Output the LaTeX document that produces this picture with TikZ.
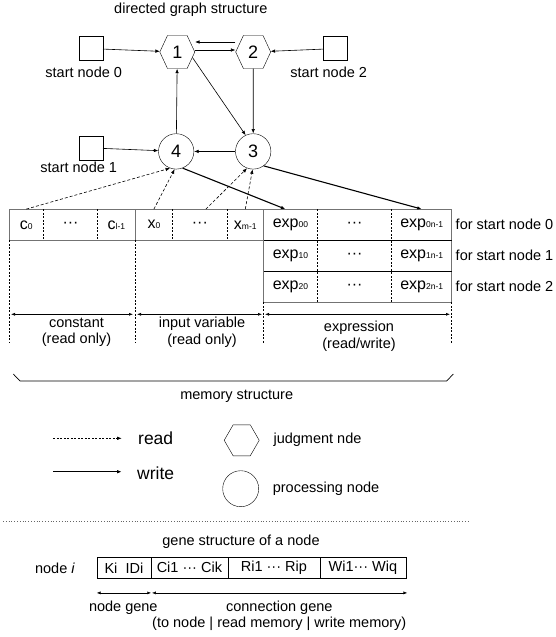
\documentclass[tikz,border=0pt]{standalone}
\usepackage{fontspec}
\setmainfont{Liberation Sans}
\usetikzlibrary{shapes.geometric,shapes.symbols,arrows.meta}
\newcommand\sbs[1]{{\fontsize{8.5}{9}\selectfont #1}}
\begin{document}
\begin{tikzpicture}[x=1pt,y=-1pt,font=\fontsize{14.5}{16.7}\selectfont,
  sq/.style={draw,minimum size=24pt,inner sep=0pt},
  hex/.style={draw,signal,signal to=east and west,signal pointer angle=130,minimum width=35pt,minimum height=33pt,inner sep=0pt,font=\fontsize{18}{18}\selectfont},
  proc/.style={draw,circle,minimum size=35.4pt,inner sep=0pt,font=\fontsize{18}{18}\selectfont},
  arr/.style={-{Latex[length=4.5pt,width=3.5pt]},line width=0.6pt},
  rd/.style={arr,dash pattern=on 3pt off 2pt},
  wr/.style={arr,line width=1.1pt},
  dbl/.style={{Latex[length=4pt,width=3pt]}-{Latex[length=4pt,width=3pt]},line width=0.6pt},
  cell/.style={minimum height=31pt,inner sep=0pt,font=\fontsize{16}{18}\selectfont},
  blk/.style={draw=black!55,line width=1pt},
  dsh/.style={dash pattern=on 2pt off 1.5pt,line width=0.6pt},
  gcell/.style={draw,minimum height=21pt,inner sep=0pt}]
\useasboundingbox (0,0) rectangle (556,637);
\node (title) at (190.8,9.9) {directed graph structure};
\node[sq] (s0) at (90.8,48.6) {};
\node (s0l) at (83.7,72) {start node 0};
\node[sq] (s2) at (335.5,48.6) {};
\node (s2l) at (328.7,72) {start node 2};
\node[sq] (s1) at (90.8,147.9) {};
\node (s1l) at (78.7,167.7) {start node 1};
\node[hex] (n1) at (177.3,52) {1};
\node[hex] (n2) at (253.2,52) {2};
\node[proc] (n4) at (176.2,151.4) {4};
\node[proc] (n3) at (253.2,151.4) {3};
\draw[arr] (s0) -- (n1);
\draw[arr] (s2) -- (n2);
\draw[arr] (s1) -- (n4);
\draw[arr] ([yshift=10pt]n2.west) -- ([yshift=10pt]n1.east);
\draw[arr] ([yshift=2pt]n1.east) -- ([yshift=2pt]n2.west);
\draw[arr] (n1.-20) -- (n3.115);
\draw[arr] (n2) -- (n3);
\draw[arr] (n4) -- (n1);
\draw[arr] (n3) -- (n4);
\node[cell] (c0) at (26.3,224.8) {c\sbs{0}};
\node[cell] (cd) at (70.5,224.8) {···};
\node[cell] (cl) at (116.4,224.8) {c\sbs{l-1}};
\node[cell] (x0) at (153.9,224.8) {x\sbs{0}};
\node[cell] (xd) at (199.9,224.8) {···};
\node[cell] (xm) at (245.3,224.8) {x\sbs{m-1}};
\foreach \r/\y in {0/224.8,1/255.8,2/286.8}{
  \node[cell] (ea\r) at (290.4,\y) {exp\sbs{\r0}};
  \node[cell] (eb\r) at (354.5,\y) {···};
  \node[cell] (ec\r) at (421.7,\y) {exp\sbs{\r n-1}};
  \node (for\r) at (504.5,\y) {for start node \r};
}
\draw[blk] (9.3,209.3) rectangle (451.7,240.3);
\draw[blk] (135,209.3) -- (135,240.3) (263.5,209.3) -- (263.5,302.3) -- (451.7,302.3) -- (451.7,240.3);
\draw[line width=0.7pt] (263.5,240.3) -- (451.7,240.3) (263.5,271.3) -- (451.7,271.3);
\foreach \x in {43.3,97.7,172.7,227} \draw[dsh] (\x,209.3) -- (\x,240.3);
\foreach \x in {317.3,391.7} \draw[dsh] (\x,209.3) -- (\x,302.3);
\draw[dsh] (9.3,240.3) -- (9.3,343) (135,240.3) -- (135,343) (263.5,302.3) -- (263.5,343) (451.7,302.3) -- (451.7,343);
\draw[rd] (c0.north) -- (n4.250);
\draw[rd] (x0.north) -- (n4.265);
\draw[rd] ([xshift=6pt]xd.north) -- (n3.250);
\draw[rd] (xm.north) -- (n3.268);
\draw[wr] (n4.291) -- ([xshift=-5pt]ea0.north);
\draw[wr] (n3.306) -- (ec0.north);
\draw[dbl] (11,314.3) -- (133,314.3);
\draw[dbl] (137,314.3) -- (262,314.3);
\draw[dbl] (265,314.3) -- (450,314.3);
\node[align=center] (lc) at (76.5,332.3) {constant\\(read only)};
\node[align=center] (li) at (202,332.3) {input variable\\(read only)};
\node[align=center,font=\fontsize{14.5}{17.7}\selectfont] (le) at (359,336.2) {expression\\(read/write)};
\draw[line width=0.7pt] (13.3,374) -- (20,381) -- (446.7,381) -- (453.3,374);
\node (mem) at (236.7,396.7) {memory structure};
\coordinate (ra) at (53.3,438.3);
\coordinate (rb) at (121.7,438.3);
\coordinate (wa) at (53.3,471.7);
\coordinate (wb) at (121.7,471.7);
\draw[rd,dash pattern=on 2pt off 1.5pt] (ra) -- (rb);
\draw[wr] (wa) -- (wb);
\node[font=\fontsize{17.5}{18}\selectfont] (lr) at (155.7,438) {read};
\node[font=\fontsize{17.5}{18}\selectfont] (lw) at (155.7,473) {write};
\node[hex,signal pointer angle=120,minimum width=35pt,minimum height=31pt] (lh) at (241.7,440.3) {};
\node[anchor=west] (lhl) at (270,440) {judgment nde};
\node[proc,minimum size=36pt] (lp) at (240.7,488.7) {};
\node[anchor=west] (lpl) at (269.3,488.3) {processing node};
\draw[black!60,dotted,line width=0.8pt] (3,521.7) -- (470,521.7);
\node (gtitle) at (241,541.7) {gene structure of a node};
\node (gi) at (55,568) {node \textit{i}};
\node[gcell,minimum width=54.3pt] (g1) at (123.9,567.8) {Ki\ \ IDi};
\node[gcell,minimum width=76.7pt] (g2) at (189.4,567.8) {Ci1 ··· Cik};
\node[gcell,minimum width=92.3pt] (g3) at (273.9,567.8) {Ri1 ··· Rip};
\node[gcell,minimum width=85.7pt] (g4) at (362.9,567.8) {Wi1··· Wiq};
\draw[dbl] ([yshift=-14.4pt]g1.south west) -- ([yshift=-14.4pt]g1.south east);
\draw[dbl] ([yshift=-14.4pt,xshift=1pt]g2.south west) -- ([yshift=-14.4pt,xshift=1.5pt]g4.south east);
\node (ng) at (123.3,607.5) {node gene};
\node (cg) at (279.3,607.5) {connection gene};
\node (cgs) at (279.3,623.5) {(to node | read memory | write memory)};
\end{tikzpicture}
\end{document}
